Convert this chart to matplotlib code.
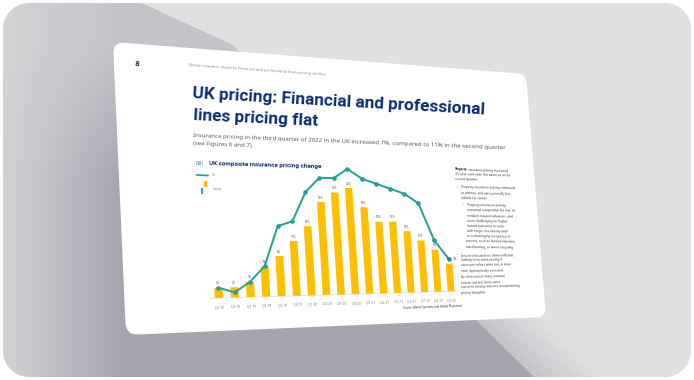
import numpy as np
import matplotlib
matplotlib.use('Agg')
import matplotlib.pyplot as plt
from matplotlib.patches import Polygon, FancyBboxPatch, Rectangle
from matplotlib.transforms import Transform
from matplotlib.path import Path

# ---- data ----
quarters = ["Q3 18", "Q4 18", "Q1 19", "Q2 19", "Q3 19", "Q4 19", "Q1 20", "Q2 20", "Q3 20",
            "Q4 20", "Q1 21", "Q2 21", "Q3 21", "Q4 21", "Q1 22", "Q2 22", "Q3 22"]
global_pct = [2, 2, 3, 6, 8, 11, 14, 19, 21, 22, 18, 15, 15, 13, 11, 9, 6]
uk_pct = [2, 1, 3, 6, 14, 15, 21, 24, 24, 26, 24, 23, 22, 21, 19, 11, 7]

W, H = 694, 380
DPI = 100
NAVY = '#0b2d71'
TEAL = '#21a095'
GOLD = '#ffbf00'
BLUE = '#2ea3dc'

plt.rcParams['font.family'] = ['Noto Sans', 'DejaVu Sans']
BOLD_FONT = ['Roboto', 'Liberation Sans', 'DejaVu Sans']

# slide corners in picture pixels (x right, y down): TL, TR, BR, BL
slide_corners = [(113, 42), (526, 74), (546, 317), (126, 335)]


def homography(src, dst):
    rows = []
    for (x, y), (u, v) in zip(src, dst):
        rows.append([x, y, 1, 0, 0, 0, -u * x, -u * y, -u])
        rows.append([0, 0, 0, x, y, 1, -v * x, -v * y, -v])
    _, _, vt = np.linalg.svd(np.array(rows, float))
    m = vt[-1].reshape(3, 3)
    return m / m[2, 2]


class Perspective(Transform):
    """projective map from the flat slide (display px) to the tilted slide"""
    input_dims = 2
    output_dims = 2
    is_separable = False
    has_inverse = True

    def __init__(self, m):
        super().__init__()
        self.m = m

    def transform_non_affine(self, values):
        v = np.asarray(values, float)
        one = v.ndim == 1
        v = v.reshape(-1, 2)
        p = np.column_stack([v, np.ones(len(v))]) @ self.m.T
        out = p[:, :2] / p[:, 2:3]
        return out[0] if one else out

    def transform_path_non_affine(self, path):
        return Path(self.transform_non_affine(path.vertices), path.codes)

    def inverted(self):
        return Perspective(np.linalg.inv(self.m))


flat_corners = [(0, H), (W, H), (W, 0), (0, 0)]
P = Perspective(homography(flat_corners, [(x, H - y) for x, y in slide_corners]))
P_inv = P.inverted()


def to_flat(px, py):
    return P_inv.transform((px, H - py))


def angle_flat(fx, fy):
    a = P.transform((fx, fy))
    b = P.transform((fx + 10, fy))
    return np.degrees(np.arctan2(b[1] - a[1], b[0] - a[0]))


def angle_pix(px, py):
    f = to_flat(px, py)
    return angle_flat(f[0], f[1])


fig = plt.figure(figsize=(W / DPI, H / DPI), dpi=DPI)
fig.patch.set_facecolor('white')
renderer = fig.canvas.get_renderer()

bg = fig.add_axes([0, 0, 1, 1])
bg.axis('off')

# ---- background panel ----
yy, xx = np.mgrid[0:H, 0:W] + 0.5
light = np.array([0.83, 0.83, 0.84])
dark = np.array([0.655, 0.647, 0.69])
k = np.clip(xx / 120, 0, 1) * (0.35 + 0.65 * np.clip((yy - 45) / 140, 0, 1))
shade = light + (dark - light) * k[..., None]
bg.imshow(shade, extent=(0, W, H, 0), zorder=0, interpolation='bilinear', aspect='auto')

xdiag = 478 + (yy - 322) * (59 / 58)
t = np.clip((xx - xdiag) / 70, 0, 1)
t = np.where(yy > 318, t, 1.0)
lo = np.array([0.77, 0.765, 0.79])
hi = np.array([0.882, 0.882, 0.882])
lite_img = lo + (hi - lo) * t[..., None]
lite_poly = Polygon([(135, 0), (W, 0), (W, H), (537, H), (478, 322), (400, 230), (233, 45)],
                    closed=True, transform=bg.transData, facecolor='none', edgecolor='none')
bg.add_patch(lite_poly)
im = bg.imshow(lite_img, extent=(0, W, H, 0), zorder=0.5, interpolation='bilinear', aspect='auto')
im.set_clip_path(lite_poly)

# white outer margin with rounded corners
m, r = 3, 26
for rect in [(0, 0, W, m), (0, H - m, W, m), (0, 0, m, H), (W - m, 0, m, H)]:
    bg.add_patch(Rectangle(rect[:2], rect[2], rect[3], facecolor='white', edgecolor='none', zorder=1))
for cx, cy, a0, corner in [(m + r, m + r, 180, (0, 0)), (W - m - r, m + r, 270, (W, 0)),
                           (W - m - r, H - m - r, 0, (W, H)), (m + r, H - m - r, 90, (0, H))]:
    ang = np.radians(np.linspace(a0, a0 + 90, 20))
    arc = np.column_stack([cx + r * np.cos(ang), cy + r * np.sin(ang)])
    pts = [corner] + [tuple(p) for p in arc]
    bg.add_patch(Polygon(pts, closed=True, facecolor='white', edgecolor='none', zorder=1))

bg.set_xlim(0, W)
bg.set_ylim(H, 0)

# ---- the slide ----
slide = FancyBboxPatch((0, 0), W, H, boxstyle='round,pad=0,rounding_size=16',
                       transform=P, facecolor='white', edgecolor='none', zorder=2)
bg.add_patch(slide)


def slide_text(px, py, s, size, **kw):
    kw.setdefault('va', 'baseline')
    return bg.text(px, py, s, fontsize=size, rotation=angle_pix(px, py),
                   rotation_mode='anchor', zorder=5, **kw)


def fit(txt, target):
    rot = txt.get_rotation()
    txt.set_rotation(0)
    w = txt.get_window_extent(renderer).width
    txt.set_fontsize(txt.get_fontsize() * target / w)
    txt.set_rotation(rot)
    return txt.get_fontsize()


slide_text(135, 66, '8', 5.5, color=NAVY, weight='bold', family=BOLD_FONT)
hdr = slide_text(188, 66, 'Global insurance markets: Financial and professional lines pricing decline',
                 2.5, color='#8a8a8a')
fit(hdr, 135)

t1 = slide_text(192, 98, 'UK pricing: Financial and professional', 12, color=NAVY,
                weight='bold', family=BOLD_FONT)
fs = fit(t1, 292)
slide_text(193, 120.5, 'lines pricing flat', fs, color=NAVY, weight='bold', family=BOLD_FONT)

s1 = slide_text(193, 137, 'Insurance pricing in the third quarter of 2022 in the UK increased 7%, '
                'compared to 11% in the second quarter', 4, color='#5a5a5a')
fs2 = fit(s1, 313)
slide_text(193, 145, '(see Figures 6 and 7).', fs2, color='#5a5a5a')

# chart heading and legend
slide_text(196, 165, '08|', 4, color='#4a66a6')
ht = slide_text(209, 165.5, 'UK composite insurance pricing change', 4, color=NAVY,
                weight='bold', family=BOLD_FONT)
fit(ht, 109)
bg.plot([197, 208], [175, 175.5], color=TEAL, lw=1.2, zorder=5)
slide_text(212, 176.3, 'UK', 2.2, color='#777777')
bg.add_patch(Rectangle((204.5, 181), 2.2, 6, facecolor=GOLD, edgecolor='none', zorder=5))
bg.add_patch(Rectangle((201.5, 188), 1.8, 5.5, facecolor=BLUE, edgecolor='none', zorder=5))
slide_text(213, 189.5, 'Global', 2.2, color='#777777')

# source note
src = slide_text(403, 309, 'Source: Marsh Specialty and Global Placement', 2.4, color='#333333')
fit(src, 59)

# right-hand column
col = dict(color='#444444', linespacing=1.4, va='top', ha='left')
p1 = slide_text(455, 167.5, 'Property', 2.3, color='#222222', weight='bold', va='top',
                family=BOLD_FONT)
pw = p1.get_window_extent(renderer).width
slide_text(455 + pw + 1, 167.7, 'insurance pricing increased', 2.3, **col)
slide_text(455, 172.3, '3% year-over-year, the same as in the\nsecond quarter.', 2.3, **col)
bullets = [
    (457, 461, 185.5, 'Property insurance pricing continued\nto plateau, and was generally less\n'
                      'volatile for clients.'),
    (463, 467, 203, 'Property insurance pricing\nremained competitive for low- to\n'
                    'medium-hazard industries, and\nmore challenging for higher\n'
                    'hazard industries or risks\nwith major loss activity and/\n'
                    'or a challenging occupancy or\nprocess, such as food production,\n'
                    'warehousing, or waste recycling.'),
    (457, 461, 253, 'Insurers focused on claims inflation,\nlooking to increase pricing if\n'
                    'exposure values were not, in their\nview, appropriately assessed.'),
    (457, 461, 275, 'As reinsurance treaty renewal\nseason started, there were\n'
                    'concerns among insurers in maintaining\npricing discipline.'),
]
for bx, tx, ty, body in bullets:
    slide_text(bx, ty, '\u2022', 2.3, color=TEAL, va='top')
    slide_text(tx, ty, body, 2.3, **col)

# ---- chart, drawn flat and tilted with the slide ----
b0 = to_flat(219, 298)      # Q3 18 bar foot
b1 = to_flat(451, 290)      # Q3 22 bar foot
tp = to_flat(349, 188)      # 22% level at Q4 20
y0 = b0[1]
cax = fig.add_axes([b0[0] / W, y0 / H, (b1[0] - b0[0]) / W, (tp[1] - y0) / H])
cax.axis('off')
n = len(quarters)
cax.set_xlim(0, n - 1)
cax.set_ylim(0, 22)
warp = cax.transData + P
x = np.arange(n)


def chart_angle(xv, yv):
    f = cax.transData.transform((xv, yv))
    return angle_flat(f[0], f[1])


cax.hlines(0, -0.6, n - 0.4, color='#e3e3e3', lw=0.6, transform=warp, clip_on=False)
cax.bar(x, global_pct, width=0.52, color=GOLD, transform=warp, clip_on=False, zorder=2)
cax.plot(x, uk_pct, color=TEAL, lw=1.4, marker='o', ms=2.3, transform=warp,
         clip_on=False, zorder=3)

for i, v in enumerate(global_pct):
    cax.text(i, v + 0.5, f'{v}%', transform=warp, fontsize=2.1, ha='center', va='bottom',
             color='#555555', rotation=chart_angle(i, v), rotation_mode='anchor', zorder=4)
    cax.text(i, -1.4, quarters[i], transform=warp, fontsize=2.3, ha='center', va='top',
             color='#777777', rotation=chart_angle(i, -1.4), rotation_mode='anchor')
cax.text(n - 1 + 0.3, uk_pct[-1], f'{uk_pct[-1]}%', transform=warp, fontsize=2.2, ha='left',
         va='center', color='#333333', rotation=chart_angle(n - 1, uk_pct[-1]),
         rotation_mode='anchor', zorder=4)

cax.set_xlim(0, n - 1)
cax.set_ylim(0, 22)

fig.savefig('out.png', dpi=DPI)
